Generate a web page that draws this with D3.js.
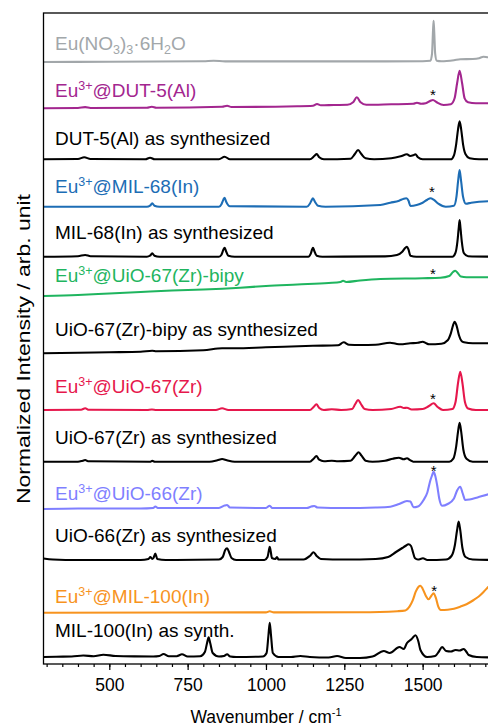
<!DOCTYPE html>
<html>
<head>
<meta charset="utf-8">
<script src="https://cdn.jsdelivr.net/npm/d3@7"></script>
<style>
  html, body { margin: 0; padding: 0; background: #fff; }
  svg { display: block; font-family: "Liberation Sans", Arial, sans-serif; }
</style>
</head>
<body>
<svg id="chart" width="488" height="727"></svg>
<script>
// Raman spectra, stacked. Each spectrum: [wavenumber, intensity above its own baseline]
const specEuNitrate = [[290,-0.3],[500,0],[800,0.5],[833,1],[870,0.3],[1000,0.3],[1300,0.3],[1500,0.5],[1525,1],[1530,8],[1533,30],[1535,41],[1537,30],[1540,8],[1545,1],[1560,0.5],[1600,1.5],[1620,2.4],[1660,2.7],[1680,3.5],[1694,5],[1710,4.4],[1730,4.4]];
const specEuDUT5 = [[290,0],[400,0.3],[423,1.2],[440,0.3],[620,0.5],[636,1.6],[650,0.6],[860,1.5],[876,2.6],[890,1.3],[1100,2],[1150,2.5],[1163,4.3],[1175,3],[1217,3.3],[1260,3.5],[1278,6],[1290,11],[1302,6],[1320,3.5],[1400,4],[1470,4.5],[1482,5.6],[1495,4.5],[1510,5],[1525,7.5],[1533,8.3],[1545,6],[1567,3.3],[1590,4],[1602,10],[1610,25],[1618,37.6],[1626,25],[1634,10],[1645,6],[1670,5],[1710,5],[1730,5]];
const specDUT5 = [[290,0],[400,0.3],[420,2],[440,0.3],[615,0],[630,1.6],[645,0],[850,0],[868,2.6],[885,0],[1140,0],[1155,3.5],[1162,5.3],[1170,2],[1185,0],[1270,0.5],[1283,5],[1294,9.3],[1305,5],[1318,1],[1345,0],[1400,1],[1430,3],[1450,5],[1460,3.3],[1470,4],[1477,5],[1485,2],[1500,0],[1590,0],[1600,4],[1607,15],[1613,30],[1618,38],[1623,30],[1629,15],[1637,5],[1650,1],[1680,0],[1730,0]];
const specEuMIL68 = [[290,0],[400,0],[620,0],[630,1],[637,3.4],[644,1],[660,0],[850,0],[858,2.5],[864,7],[868,9],[873,5],[885,0.5],[1130,0],[1140,3],[1145,6],[1150,8.4],[1156,5],[1166,1],[1190,0],[1365,1.7],[1397,4],[1425,6],[1440,8],[1448,8.4],[1455,6],[1461,0.7],[1481,1.7],[1500,4],[1515,7],[1525,8.4],[1535,7],[1550,3],[1574,0],[1600,1],[1608,10],[1613,25],[1618,36.7],[1623,25],[1629,10],[1638,3],[1655,4],[1680,5],[1710,5.5],[1730,5.5]];
const specMIL68 = [[290,0],[400,0.5],[423,1.7],[440,0.5],[620,0],[630,1],[637,3.4],[644,1],[660,0],[850,0],[858,2],[864,7],[868,9],[872,6],[880,1],[900,0],[1135,0],[1143,3],[1147,7],[1150,9],[1154,6],[1162,1],[1180,0],[1380,0.3],[1418,1.7],[1435,5],[1445,9],[1450,10],[1455,7],[1461,1],[1480,0],[1595,0],[1605,4],[1611,15],[1615,28],[1618,36.7],[1621,28],[1625,15],[1631,4],[1645,0.5],[1730,0]];
const specEuUiO67bipy = [[290,0],[400,1],[500,2.5],[600,4],[700,5.5],[800,6.5],[918,8.3],[1000,10],[1100,11.5],[1200,13],[1238,14],[1246,15.3],[1256,14],[1300,15.5],[1365,17],[1500,17.8],[1557,18.3],[1585,20],[1597,24],[1604,25.3],[1612,23],[1622,19.5],[1640,18.8],[1710,18.7],[1730,18.7]];
const specUiO67bipy = [[290,0],[400,0.5],[500,1],[600,1.5],[637,2.5],[650,2],[800,3],[860,5],[900,5],[1000,6],[1150,7.5],[1230,8],[1248,11],[1265,8.5],[1300,8.3],[1350,8.5],[1396,10.6],[1415,9.5],[1429,9],[1460,10],[1485,10.5],[1500,11.6],[1512,10],[1520,9],[1560,9.5],[1580,13],[1590,20],[1597,28],[1602,31.6],[1608,28],[1616,18],[1625,12],[1632,11],[1660,10],[1730,10]];
const specEuUiO67 = [[290,0],[410,0.3],[423,1.7],[435,0.2],[620,0],[636,0.5],[650,0],[840,0],[860,1.7],[880,0],[1140,0],[1152,3],[1161,5.7],[1170,2],[1185,0],[1210,0.8],[1240,0],[1275,1],[1285,6],[1294,10],[1303,6],[1315,1],[1340,0],[1400,1],[1429,3.3],[1440,2],[1450,2.3],[1465,0.5],[1500,1],[1520,4],[1535,6.7],[1548,3],[1565,0],[1595,1],[1605,8],[1613,27],[1620,38.3],[1627,27],[1635,8],[1645,1.5],[1670,0],[1730,0]];
const specUiO67 = [[290,0],[400,0],[415,1],[423,1.7],[432,0.5],[630,0],[637,0.8],[645,0],[820,0],[845,1.5],[860,2.7],[875,1.5],[900,0],[1140,0],[1152,3],[1161,5.7],[1170,2],[1185,0.5],[1210,1],[1230,0.5],[1270,1],[1285,6],[1296,9.4],[1305,6],[1318,1],[1340,0],[1380,1],[1405,3],[1424,4],[1440,2.4],[1450,3.4],[1460,1.5],[1470,0],[1585,0],[1598,3],[1607,15],[1613,30],[1618,39],[1623,30],[1630,12],[1640,3],[1660,0],[1730,0]];
const specEuUiO66 = [[290,-0.5],[400,0],[600,0],[640,0.5],[647,2],[655,0.5],[850,0.5],[868,3],[876,3.5],[885,1],[1000,0.5],[1012,2.8],[1020,0.5],[1130,0.5],[1145,2],[1154,2.5],[1165,1],[1250,0.5],[1350,1],[1397,1.8],[1425,4.5],[1450,7.5],[1461,7],[1471,1.2],[1485,2],[1503,8.5],[1515,16],[1525,28.5],[1530,33],[1535,36.8],[1540,33],[1547,22],[1553,10],[1562,2.8],[1580,4.5],[1600,10],[1610,18],[1620,21.8],[1628,15],[1636,8.5],[1650,9],[1675,11],[1710,14.2],[1730,15.5]];
const specUiO66 = [[290,1.5],[320,0.5],[400,0],[600,0],[625,1],[631,3],[637,1],[641,2],[647,6.5],[653,1],[680,0],[850,0.5],[862,3],[870,10],[876,11.7],[882,8],[890,2],[905,0],[995,0],[1005,3],[1009,9],[1012,13.3],[1015,9],[1019,2],[1030,1],[1035,3],[1040,0.5],[1120,0.5],[1140,4],[1152,7.7],[1162,4],[1175,1],[1250,0.5],[1350,1],[1390,3],[1415,8],[1435,12],[1445,14],[1455,15.7],[1463,14],[1469,8],[1475,2],[1485,0.5],[1501,1.7],[1515,0],[1575,0.5],[1592,4],[1603,15],[1610,30],[1615,38.5],[1620,30],[1627,12],[1637,3],[1660,0.5],[1730,0]];
const specEuMIL100 = [[290,0],[700,0.2],[1000,0.3],[1012,1.4],[1025,0.3],[1300,0.5],[1420,1.5],[1445,2.2],[1458,6],[1468,12],[1478,21],[1487,26],[1493,27],[1500,24],[1510,17],[1519,13.4],[1528,17],[1535,19.4],[1542,15],[1550,6],[1558,2.7],[1580,3],[1600,4],[1620,6],[1640,8.5],[1663,12.7],[1680,16.5],[1695,21],[1710,26],[1730,32]];
const specMIL100 = [[290,0],[330,0.3],[380,0.5],[417,1.5],[450,0.8],[481,2.2],[520,1],[580,0.6],[640,0.5],[660,1],[673,3],[690,0.8],[715,0.8],[732,2.7],[750,0.5],[790,0.8],[805,5],[812,14],[817,19.7],[822,14],[830,4],[850,0.5],[866,1],[876,2.7],[886,0.5],[905,0],[990,0.5],[1002,4],[1008,22],[1012,34.3],[1016,22],[1022,4],[1040,0],[1080,0],[1110,1],[1140,0],[1200,-0.5],[1227,1],[1255,-1],[1300,-1],[1340,0.5],[1376,6],[1395,4],[1426,10],[1440,8],[1450,14],[1465,18],[1477,21.7],[1486,16],[1493,7],[1514,0],[1540,1],[1553,6],[1562,10],[1575,6],[1590,5.5],[1605,7],[1618,6.5],[1631,8],[1640,5],[1647,2],[1673,0],[1730,-0.5]];

// Vertical offset of each spectrum in the stack (arb. unit), top to bottom
const offsets = [602.3, 555.7, 504.7, 457.3, 407.3, 368, 310.7, 254, 202.3, 155.5, 104, 51.3, 7];
const spectra = [specEuNitrate, specEuDUT5, specDUT5, specEuMIL68, specMIL68, specEuUiO67bipy, specUiO67bipy, specEuUiO67, specUiO67, specEuUiO66, specUiO66, specEuMIL100, specMIL100];

// Sample names: [text, script kind] pieces
const sampleLabels = [
  [["Eu(NO",""],["3","sub"],[")",""],["3","sub"],["·6H",""],["2","sub"],["O",""]],
  [["Eu",""],["3+","sup"],["@DUT-5(Al)",""]],
  [["DUT-5(Al) as synthesized",""]],
  [["Eu",""],["3+","sup"],["@MIL-68(In)",""]],
  [["MIL-68(In) as synthesized",""]],
  [["Eu",""],["3+","sup"],["@UiO-67(Zr)-bipy",""]],
  [["UiO-67(Zr)-bipy as synthesized",""]],
  [["Eu",""],["3+","sup"],["@UiO-67(Zr)",""]],
  [["UiO-67(Zr) as synthesized",""]],
  [["Eu",""],["3+","sup"],["@UiO-66(Zr)",""]],
  [["UiO-66(Zr) as synthesized",""]],
  [["Eu",""],["3+","sup"],["@MIL-100(In)",""]],
  [["MIL-100(In) as synth.",""]]
];

// Asterisks marking the nitrate band: [wavenumber, height in arb. unit]
const starMarks = [[1533,572.3],[1530,475.7],[1533,394],[1533,268.3],[1535,196.3],[1537,76.7]];

const majorTicks = [500, 750, 1000, 1250, 1500];
const minorTicks = d3.range(300, 1701, 50);

// ---- styling / layout ----
const colors = ["#a2a7aa","#a3268f","#000000","#1d6db5","#000000","#1fb55f","#000000","#e6174c","#000000","#7f7fff","#000000","#f7931e","#000000"];
const labelGap = [11.7, 11.6, 14.3, 14, 17.4, 14.3, 17.6, 16.7, 17.4, 8.5, 17.7, 9.4, 19.7];

const svg = d3.select("#chart");
const plotLeft = 43.5, plotTop = 13, plotBottom = 664, plotRight = 494.7;

const x = d3.scaleLinear().domain([290, 1730]).range([plotLeft, plotRight]);
const y = d3.scaleLinear().domain([0, 651]).range([plotBottom, plotTop]);

svg.append("defs").append("clipPath").attr("id", "plotClip")
  .append("rect").attr("x", plotLeft).attr("y", plotTop)
  .attr("width", plotRight - plotLeft).attr("height", plotBottom - plotTop);

const line = d3.line()
  .x(d => x(d[0]))
  .y(d => y(d[1]))
  .curve(d3.curveMonotoneX);

const plot = svg.append("g").attr("clip-path", "url(#plotClip)");

spectra.forEach((s, i) => {
  const pts = s.map(p => [p[0], p[1] + offsets[i]]);
  plot.append("path")
    .attr("d", line(pts))
    .attr("fill", "none")
    .attr("stroke", colors[i])
    .attr("stroke-width", 2.1)
    .attr("stroke-linejoin", "round");
});

// sample labels
sampleLabels.forEach((parts, i) => {
  const t = svg.append("text")
    .attr("x", 55)
    .attr("y", y(offsets[i]) - labelGap[i])
    .attr("font-size", 19)
    .attr("fill", colors[i]);
  parts.forEach(([txt, kind]) => {
    const ts = t.append("tspan").text(txt);
    if (kind === "sup") ts.attr("font-size", 12.5).attr("baseline-shift", "7");
    if (kind === "sub") ts.attr("font-size", 12.5).attr("baseline-shift", "-4");
  });
});

// asterisks
svg.append("g").selectAll("text").data(starMarks).join("text")
  .attr("x", d => x(d[0]))
  .attr("y", d => y(d[1]) + 8.5)
  .attr("text-anchor", "middle")
  .attr("font-size", 15)
  .attr("fill", "#000")
  .text("*");

// frame
svg.append("rect")
  .attr("x", plotLeft).attr("y", plotTop)
  .attr("width", plotRight - plotLeft).attr("height", plotBottom - plotTop)
  .attr("fill", "none").attr("stroke", "#000").attr("stroke-width", 1.3);

// bottom axis
const gMinor = svg.append("g").attr("transform", `translate(0,${plotBottom})`)
  .call(d3.axisBottom(x).tickValues(minorTicks).tickSize(3).tickFormat(""));
const gMajor = svg.append("g").attr("transform", `translate(0,${plotBottom})`)
  .call(d3.axisBottom(x).tickValues(majorTicks).tickSize(6).tickFormat(d3.format("d")));
[gMinor, gMajor].forEach(g => {
  g.select(".domain").remove();
  g.selectAll("line").attr("stroke", "#000").attr("stroke-width", 1.2);
});
gMajor.selectAll("text")
  .attr("y", 26.5).attr("dy", 0)
  .attr("font-size", 17.5)
  .attr("font-family", "Liberation Sans, Arial, sans-serif")
  .attr("fill", "#000");

// axis titles
const xt = svg.append("text")
  .attr("x", 266).attr("y", 723)
  .attr("text-anchor", "middle")
  .attr("font-size", 17.5).attr("fill", "#000");
xt.append("tspan").text("Wavenumber / cm");
xt.append("tspan").text("-1").attr("font-size", 11).attr("baseline-shift", "7");

svg.append("text")
  .attr("transform", "translate(29.5,349) rotate(-90)")
  .attr("text-anchor", "middle")
  .attr("font-size", 17.5).attr("fill", "#000")
  .attr("textLength", 310).attr("lengthAdjust", "spacingAndGlyphs")
  .text("Normalized Intensity / arb. unit");
</script>
</body>
</html>
